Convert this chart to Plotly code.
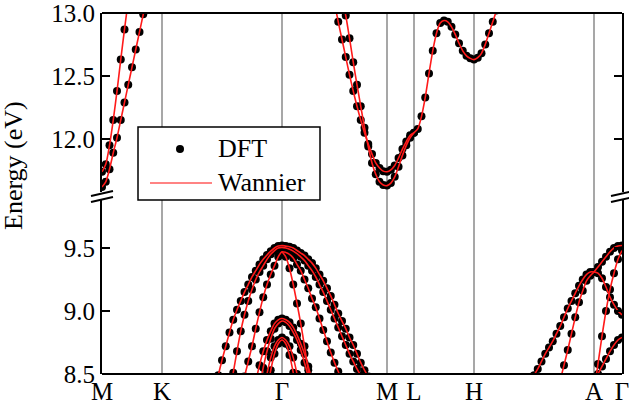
import numpy as np
import plotly.graph_objects as go

# ---------------- k-path ----------------
HSYM_LABELS = ["M", "K", "Γ", "M", "L", "H", "A", "Γ"]
HSYM_POS = [0, 60, 180, 285, 312, 372, 492, 520]   # path length (arb. units)
SEG_DIVS = [16, 32, 28, 7, 16, 32, 7]              # k-points per segment

# ---------------- bands (start k-index, energies in eV) ----------------
# upper window (conduction bands)
u1_start, u1 = 0, [11.74, 11.80, 11.95, 12.15, 12.38, 12.63, 12.87, 13.10]
u2_start, u2 = 0, [11.62, 11.66, 11.76, 11.89, 12.01, 12.15, 12.29, 12.43, 12.57,
                   12.71, 12.85, 12.99, 13.13]
u3_start, u3 = 62, [13.08, 12.93, 12.79, 12.65, 12.51, 12.38, 12.26, 12.15, 12.05,
                    11.96, 11.88, 11.81, 11.77, 11.745, 11.74,
                    11.755, 11.79, 11.85, 11.92, 11.98, 12.03, 12.05,
                    12.08, 12.18, 12.33, 12.52, 12.70, 12.84, 12.92, 12.94, 12.93,
                    12.89, 12.83, 12.76, 12.70, 12.66, 12.64, 12.63,
                    12.645, 12.68, 12.75, 12.84, 12.93, 13.02, 13.12]
u4_start, u4 = 64, [13.12, 12.98, 12.80, 12.61, 12.43, 12.26, 12.09, 11.94, 11.81,
                    11.72, 11.66, 11.635, 11.63,
                    11.65, 11.70, 11.78, 11.87, 11.95, 12.01, 12.05]

# lower window (valence bands)
la_start, la = 30, [8.37, 8.49, 8.61, 8.72, 8.83, 8.93, 9.01, 9.08, 9.15, 9.21, 9.27,
                    9.32, 9.37, 9.41, 9.445, 9.475, 9.50, 9.515, 9.52,
                    9.515, 9.51, 9.50, 9.48, 9.46, 9.44, 9.41, 9.38, 9.34, 9.29, 9.24,
                    9.18, 9.12, 9.05, 8.98, 8.92, 8.86, 8.79, 8.73, 8.66, 8.59, 8.53,
                    8.48, 8.44]
lb_start, lb = 34, [8.33, 8.51, 8.68, 8.84, 8.97, 9.08, 9.17, 9.25, 9.31, 9.36, 9.41,
                    9.45, 9.48, 9.50, 9.505,
                    9.50, 9.49, 9.475, 9.455, 9.43, 9.40, 9.36, 9.32, 9.27, 9.21, 9.15,
                    9.08, 9.01, 8.94, 8.87, 8.80, 8.73, 8.66, 8.60, 8.54, 8.49, 8.45]
lc_start, lc = 37, [8.36, 8.48, 8.60, 8.72, 8.86, 8.99, 9.11, 9.21, 9.29, 9.36, 9.43,
                    9.47,
                    9.465, 9.45, 9.42, 9.37, 9.32, 9.25, 9.18, 9.10, 9.03, 8.94, 8.85,
                    8.76, 8.67, 8.59, 8.52, 8.45]
lcr_start, lcr = 48, [9.47, 9.43, 9.34, 9.21, 9.06, 8.90, 8.72, 8.53, 8.33]
ld1_start, ld1 = 41, [8.44, 8.57, 8.68, 8.77, 8.84, 8.90, 8.93, 8.94,
                      8.93, 8.91, 8.87, 8.81, 8.74, 8.66, 8.56, 8.45]
ld2_start, ld2 = 42, [8.41, 8.55, 8.68, 8.78, 8.86, 8.90, 8.92,
                      8.91, 8.88, 8.83, 8.77, 8.69, 8.59, 8.48, 8.36]
le1_start, le1 = 43, [8.33, 8.50, 8.63, 8.72, 8.77, 8.79,
                      8.77, 8.72, 8.63, 8.50, 8.33]
le2_start, le2 = 44, [8.37, 8.53, 8.66, 8.74, 8.77,
                      8.74, 8.65, 8.51, 8.33]
lr1_start, lr1 = 114, [8.43, 8.49, 8.54, 8.60, 8.66, 8.71, 8.76, 8.82, 8.88, 8.95,
                       9.02, 9.08, 9.14, 9.20, 9.25, 9.29, 9.31, 9.31,
                       9.30, 9.26, 9.19, 9.11, 9.05, 9.00, 8.97]
lr2_start, lr2 = 122, [8.45, 8.57, 8.69, 8.82, 8.95, 9.07, 9.16, 9.24, 9.28, 9.31,
                       9.35, 9.39, 9.43, 9.47, 9.50, 9.515, 9.52]
lag1_start, lag1 = 131, [8.36, 8.58, 8.80, 9.00, 9.17, 9.30, 9.41, 9.48]
lag2_start, lag2 = 131, [8.44, 8.50, 8.56, 8.62, 8.68, 8.73, 8.77, 8.79]

UPPER = [(u1_start, u1), (u2_start, u2), (u3_start, u3), (u4_start, u4)]
LOWER = [(la_start, la), (lb_start, lb), (lc_start, lc), (lcr_start, lcr),
         (ld1_start, ld1), (ld2_start, ld2), (le1_start, le1), (le2_start, le2),
         (lr1_start, lr1), (lr2_start, lr2), (lag1_start, lag1), (lag2_start, lag2)]

# ---------------- k grid ----------------
kgrid = [float(HSYM_POS[0])]
for a, b, n in zip(HSYM_POS[:-1], HSYM_POS[1:], SEG_DIVS):
    kgrid.extend(np.linspace(a, b, n + 1)[1:].tolist())


def assemble(bands):
    xs, ys = [], []
    for start, vals in bands:
        xs += kgrid[start:start + len(vals)] + [None]
        ys += list(vals) + [None]
    return xs, ys


FONT = "Liberation Serif"
FS = 25
RED = "#ff1a1a"

fig = go.Figure()
for bands, yax in ((LOWER, "y"), (UPPER, "y2")):
    x, y = assemble(bands)
    fig.add_trace(go.Scatter(x=x, y=y, yaxis=yax, mode="markers", name="DFT",
                             marker=dict(color="black", size=8),
                             hoverinfo="skip", showlegend=False))
for bands, yax in ((LOWER, "y"), (UPPER, "y2")):
    x, y = assemble(bands)
    fig.add_trace(go.Scatter(x=x, y=y, yaxis=yax, mode="lines", name="Wannier",
                             line=dict(color=RED, width=1.6, shape="spline", smoothing=0.8),
                             connectgaps=False, hoverinfo="skip", showlegend=False))

# ---------------- geometry helpers (pixel -> paper) ----------------
L, R, T, B = 102, 7, 13, 39
W, H = 629, 413
PW, PH = W - L - R, H - T - B


def px(xp):
    return (xp - L) / PW


def py(yp):
    return (H - B - yp) / PH


UP_BOT, LO_TOP = 192, 199
axis_common = dict(ticks="inside", ticklen=8, tickwidth=2, tickcolor="black",
                   showline=True, linewidth=2, linecolor="black", mirror="ticks",
                   showgrid=False, zeroline=False, automargin=False,
                   ticklabeloverflow="allow",
                   tickfont=dict(family=FONT, size=FS, color="black"))
EV_PER_PX = 0.5 / 63
fig.update_layout(
    width=W, height=H, margin=dict(l=L, r=R, t=T, b=B, pad=0, autoexpand=False),
    plot_bgcolor="white", paper_bgcolor="white", showlegend=False,
    font=dict(family=FONT, size=FS, color="black"),
    xaxis=dict(range=[HSYM_POS[0], HSYM_POS[-1]], tickvals=HSYM_POS, ticktext=HSYM_LABELS,
               ticks="", showgrid=False, zeroline=False, showline=False, automargin=False,
               ticklabeloverflow="allow",
               tickfont=dict(family=FONT, size=FS, color="black"), anchor="y"),
    yaxis=dict(domain=[0, py(LO_TOP)], range=[8.5, 8.5 + (H - B - LO_TOP) * EV_PER_PX],
               tickvals=[8.5, 9.0, 9.5], ticktext=["8.5", "9.0", "9.5"], anchor="x",
               **axis_common),
    yaxis2=dict(domain=[py(UP_BOT), 1], range=[13.0 - (UP_BOT - T) * EV_PER_PX, 13.0],
                tickvals=[12.0, 12.5, 13.0], ticktext=["12.0", "12.5", "13.0"], anchor="x",
                **axis_common),
)

shapes = []
# high-symmetry vertical lines
for xv in HSYM_POS[1:-1]:
    shapes.append(dict(type="line", xref="x", yref="paper", x0=xv, x1=xv, y0=0, y1=1,
                       line=dict(color="#8a8a8a", width=1.5), layer="below"))
# top / bottom frame
shapes.append(dict(type="line", xref="paper", yref="paper", x0=0, x1=1, y0=1, y1=1,
                   line=dict(color="black", width=2)))
shapes.append(dict(type="line", xref="paper", yref="paper", x0=0, x1=1, y0=0, y1=0,
                   line=dict(color="black", width=2)))
# axis break marks
for xa in (L, W - R):
    for yc in (193.5, 199.5):
        shapes.append(dict(type="line", xref="paper", yref="paper",
                           x0=px(xa - 11), y0=py(yc + 2.5), x1=px(xa + 11), y1=py(yc - 2.5),
                           line=dict(color="black", width=2)))
# legend box
shapes.append(dict(type="rect", xref="paper", yref="paper",
                   x0=px(138), x1=px(320), y0=py(200), y1=py(127),
                   fillcolor="white", line=dict(color="black", width=1.5), layer="above"))
shapes.append(dict(type="circle", xref="paper", yref="paper",
                   x0=px(176), x1=px(184), y0=py(153), y1=py(145),
                   fillcolor="black", line=dict(color="black", width=0), layer="above"))
shapes.append(dict(type="line", xref="paper", yref="paper",
                   x0=px(150), x1=px(212), y0=py(183), y1=py(183),
                   line=dict(color="#ff5a5a", width=1.5), layer="above"))
fig.update_layout(shapes=shapes)

annotations = [
    dict(text="DFT", xref="paper", yref="paper", x=px(216), y=py(149),
         xanchor="left", yanchor="middle", showarrow=False,
         font=dict(family=FONT, size=26, color="black")),
    dict(text="Wannier", xref="paper", yref="paper", x=px(216), y=py(183),
         xanchor="left", yanchor="middle", showarrow=False,
         font=dict(family=FONT, size=26, color="black")),
    dict(text="Energy (eV)", xref="paper", yref="paper", x=px(14), y=py(166),
         xanchor="center", yanchor="middle", textangle=-90, showarrow=False,
         font=dict(family=FONT, size=26, color="black")),
]
fig.update_layout(annotations=annotations)

fig.write_html("out.html")
